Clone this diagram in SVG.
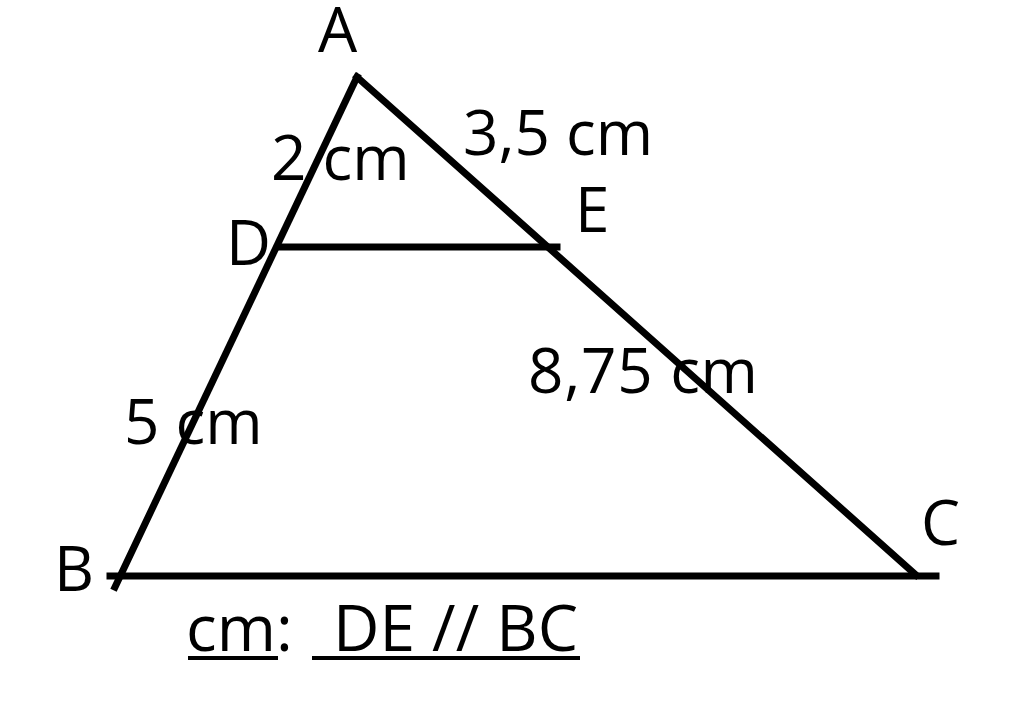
<svg xmlns="http://www.w3.org/2000/svg" width="1024" height="712" viewBox="0 0 1024 712">
<style>
.ln{stroke:#000;stroke-width:7;fill:none;stroke-linecap:square}
.ul{stroke:#000;stroke-width:4;fill:none}
text{font-family:"Open Sans","Noto Sans",sans-serif;font-size:62px;fill:#000}
.big{font-size:64px}
</style>
<rect width="1024" height="712" fill="#fff"/>
<g id="edges">
<line class="ln" x1="357" y1="77" x2="115" y2="587"/>
<line class="ln" x1="357" y1="77" x2="916" y2="575"/>
<line class="ln" x1="110" y1="576" x2="936" y2="576"/>
<line class="ln" x1="279" y1="247" x2="557" y2="247"/>
</g>
<g id="labels">
<text x="318" y="52">A</text>
<text x="226" y="265">D</text>
<text x="575" y="232">E</text>
<text x="54" y="591">B</text>
<text x="921" y="545">C</text>
<text x="271" y="180">2 cm</text>
<text x="463" y="155">3,5 cm</text>
<text x="528" y="393" textLength="230">8,75 cm</text>
<text x="124" y="444">5 cm</text>
</g>
<g id="note">
<text class="big" x="186" y="651">cm:</text>
<line class="ul" x1="188" y1="658" x2="278" y2="658"/>
<text class="big" x="333" y="651" textLength="245">DE // BC</text>
<line class="ul" x1="312" y1="658" x2="580" y2="658"/>
</g>
</svg>
